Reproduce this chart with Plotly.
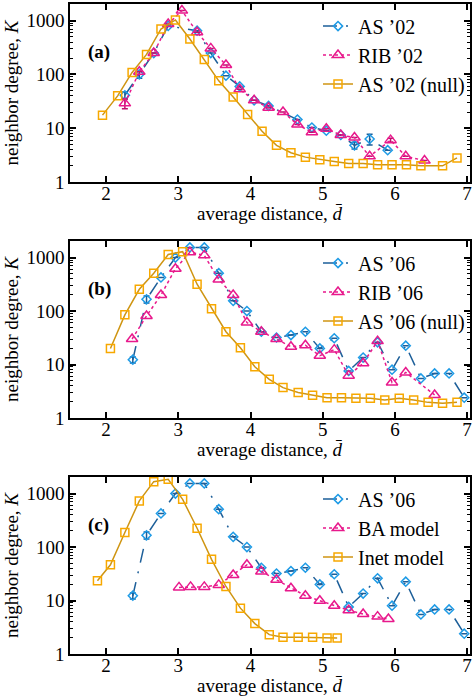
import plotly.graph_objects as go

# ---------------- data ----------------
# Panel (a)
as02_x = [2.26, 2.46, 2.66, 2.86, 3.26, 3.45, 3.66, 3.85, 4.05, 4.25, 4.65, 4.85, 5.05, 5.25, 5.44, 5.65, 5.90]
as02_y = [41, 100, 250, 800, 650, 250, 95, 60, 33, 26, 14.5, 10.3, 9, 7.5, 4.8, 6.3, 3.9]
as02_err = [6, 15, None, None, None, None, None, None, None, None, None, None, None, None, 0.7, 1.4, None]

rib02_x = [2.26, 2.46, 2.66, 2.86, 3.05, 3.26, 3.45, 3.66, 3.85, 4.05, 4.25, 4.45, 4.65, 4.85, 5.05, 5.25, 5.44, 5.65, 5.94, 6.15, 6.41]
rib02_y = [29, 112, 250, 870, 1540, 610, 305, 150, 53, 33, 24, 20, 11.7, 8.4, 9.8, 7.5, 6.7, 3.0, 6.0, 3.0, 2.5]
rib02_err = [6, None, None, None, None, None, None, None, None, None, None, None, None, None, None, None, None, None, 0.5, None, None]

null02_x = [1.95, 2.16, 2.36, 2.56, 2.76, 2.96, 3.16, 3.36, 3.56, 3.76, 3.96, 4.16, 4.36, 4.56, 4.76, 4.96,
            5.16, 5.36, 5.56, 5.76, 5.96, 6.16, 6.36, 6.66, 6.86]
null02_y = [17.5, 40, 109, 236, 700, 1030, 455, 190, 76, 38, 18, 8.8, 4.8, 3.5, 2.9, 2.6,
            2.4, 2.2, 2.2, 2.1, 2.1, 2.1, 2.0, 2.0, 2.8]

# Panel (b)
as06_x = [2.37, 2.56, 2.76, 2.96, 3.16, 3.36, 3.56, 3.76, 3.95, 4.15, 4.36, 4.56, 4.76, 4.96, 5.16, 5.36,
          5.56, 5.76, 5.96, 6.15, 6.36, 6.55, 6.75, 6.96]
as06_y = [12.3, 166, 425, 1000, 1550, 1550, 510, 155, 100, 41, 32, 35.5, 41, 20, 31, 7.6,
          13.5, 26, 8, 22.5, 5.5, 6.8, 6.8, 2.4]
as06_err = [1.6, 25, None, None, None, None, None, None, None, None, None, None, None, None, None, None,
            None, None, None, None, None, None, None, None]

rib06_x = [2.36, 2.56, 2.76, 2.96, 3.16, 3.36, 3.56, 3.76, 3.95, 4.15, 4.36, 4.56, 4.76, 4.96, 5.16, 5.36,
           5.56, 5.76, 5.96, 6.15, 6.55]
rib06_y = [30, 81, 199, 620, 1260, 1100, 390, 199, 61, 41, 30, 21.5, 23, 14.6, 19, 6.2,
           10.6, 27.4, 4.6, 7.1, 2.7]

null06_x = [2.06, 2.26, 2.46, 2.66, 2.86, 3.06, 3.26, 3.46, 3.66, 3.86, 4.06, 4.26, 4.45, 4.66, 4.86, 5.06,
            5.26, 5.46, 5.66, 5.86, 6.06, 6.26, 6.46, 6.66, 6.86]
null06_y = [20, 85, 255, 510, 1140, 1290, 318, 111, 41, 20.5, 9.1, 5.3, 3.7, 3.0, 2.65, 2.4,
            2.4, 2.33, 2.33, 2.17, 2.33, 2.17, 1.96, 1.88, 1.96]

# Panel (c)
ba_x = [3.01, 3.17, 3.36, 3.56, 3.76, 3.95, 4.15, 4.36, 4.56, 4.76, 4.96, 5.16, 5.36, 5.56, 5.76, 5.91]
ba_y = [17.6, 18, 18, 19.6, 30, 46.5, 35, 24.5, 17, 12.3, 9.9, 8, 6.6, 5.6, 5.0, 4.5]

inet_x = [1.88, 2.06, 2.26, 2.46, 2.66, 2.86, 3.06, 3.26, 3.46, 3.66, 3.86, 4.06, 4.26, 4.45, 4.66, 4.86, 5.06, 5.20]
inet_y = [23.4, 46.5, 187, 730, 1670, 1850, 780, 225, 59, 18.3, 7.2, 3.7, 2.3, 2.05, 2.05, 2.05, 2.0, 2.0]

panel_labels = ["(a)", "(b)", "(c)"]
legend_names = [["AS ’02", "RIB ’02", "AS ’02 (null)"],
                ["AS ’06", "RIB ’06", "AS ’06 (null)"],
                ["AS ’06", "BA model", "Inet model"]]
x_title = "average distance, <i>d̄</i>"
y_title = "neighbor degree, <i>K</i>"

# ---------------- styles ----------------
BLUE_M = "#1e9be6"
BLUE_L = "#1d5f99"
PINK = "#e8198c"
ORANGE_M = "#f7a800"
ORANGE_L = "#cf9512"
FONT = "'Liberation Serif', 'Times New Roman', Times, serif"

fig = go.Figure()

def err(vals):
    if vals is None:
        return None
    return dict(type="data", array=vals, visible=True, color=BLUE_L, thickness=1.5, width=3)

def add_as(x, y, e, name, ax, leg):
    fig.add_trace(go.Scatter(
        x=x, y=y, name=name, mode="lines+markers",
        line=dict(color=BLUE_L, width=1.5, dash="14px,9px,2px,9px"),
        marker=dict(symbol="diamond-open", size=7, color=BLUE_M, line=dict(width=1.5, color=BLUE_M)),
        error_y=err(e), xaxis="x" + ax, yaxis="y" + ax, legend=leg))

def add_tri(x, y, e, name, ax, leg):
    d = None
    if e is not None:
        d = dict(type="data", array=e, visible=True, color="#c0106e", thickness=1.5, width=3)
    fig.add_trace(go.Scatter(
        x=x, y=y, name=name, mode="lines+markers",
        line=dict(color=PINK, width=1.5, dash="dot"),
        marker=dict(symbol="triangle-up-open", size=10, color=PINK, line=dict(width=1.5, color=PINK)),
        error_y=d, xaxis="x" + ax, yaxis="y" + ax, legend=leg))

def add_sq(x, y, name, ax, leg):
    fig.add_trace(go.Scatter(
        x=x, y=y, name=name, mode="lines+markers",
        line=dict(color=ORANGE_L, width=1.5),
        marker=dict(symbol="square-open", size=8, color=ORANGE_M, line=dict(width=1.5, color=ORANGE_M)),
        xaxis="x" + ax, yaxis="y" + ax, legend=leg))

add_as(as02_x, as02_y, as02_err, legend_names[0][0], "", "legend")
add_tri(rib02_x, rib02_y, rib02_err, legend_names[0][1], "", "legend")
add_sq(null02_x, null02_y, legend_names[0][2], "", "legend")

add_as(as06_x, as06_y, as06_err, legend_names[1][0], "2", "legend2")
add_tri(rib06_x, rib06_y, None, legend_names[1][1], "2", "legend2")
add_sq(null06_x, null06_y, legend_names[1][2], "2", "legend2")

add_as(as06_x, as06_y, as06_err, legend_names[2][0], "3", "legend3")
add_tri(ba_x, ba_y, None, legend_names[2][1], "3", "legend3")
add_sq(inet_x, inet_y, legend_names[2][2], "3", "legend3")

H = 696
mt, mb = 4, 42
ph = H - mt - mb
def dom(top_px, bot_px):
    return [(H - mb - bot_px) / ph, (H - mb - top_px) / ph]

domains = [dom(4, 182), dom(241, 418), dom(477, 654)]

axis_common = dict(showline=True, linecolor="black", linewidth=1.5, mirror="ticks",
                   ticks="inside", ticklen=6, tickwidth=1.5, tickcolor="black",
                   showgrid=False, zeroline=False, automargin=False,
                   tickfont=dict(family=FONT, size=19, color="black"))

layout = dict(width=472, height=H, margin=dict(l=70, r=2, t=mt, b=mb),
              paper_bgcolor="white", plot_bgcolor="white",
              font=dict(family=FONT, size=19, color="black"))

annotations = []
for i, sfx in enumerate(["", "2", "3"]):
    layout["xaxis" + sfx] = dict(axis_common, range=[1.5, 7.04], tickvals=[2, 3, 4, 5, 6, 7],
                                 anchor="y" + sfx, ticklabelstandoff=-7)
    layout["yaxis" + sfx] = dict(axis_common, type="log", range=[0, 3.31], domain=domains[i],
                                 anchor="x" + sfx,
                                 tickvals=[1, 10, 100, 1000], ticktext=["1", "10", "100", "1000"],
                                 minor=dict(ticks="inside", ticklen=3, tickwidth=1, tickcolor="black",
                                            dtick="D1", showgrid=False),
                                 title=dict(text=y_title, standoff=3,
                                            font=dict(family=FONT, size=19)))
    leg_key = "legend" if sfx == "" else "legend" + sfx
    layout[leg_key] = dict(x=0.62, xanchor="left", y=domains[i][1] - 0.004, yanchor="top",
                           bgcolor="rgba(0,0,0,0)", borderwidth=0,
                           font=dict(family=FONT, size=20), itemwidth=30,
                           tracegroupgap=0)
    annotations.append(dict(text="<b>" + panel_labels[i] + "</b>", xref="x" + sfx + " domain",
                            yref="y" + sfx + " domain", x=0.04, y=0.73, showarrow=False,
                            xanchor="left", yanchor="middle",
                            font=dict(family=FONT, size=19, color="black")))
    annotations.append(dict(text=x_title, xref="x" + sfx + " domain",
                            yref="y" + sfx + " domain", x=0.5, y=0, yshift=-31,
                            showarrow=False, xanchor="center", yanchor="middle",
                            font=dict(family=FONT, size=19, color="black")))

layout["annotations"] = annotations
fig.update_layout(**layout)
fig.write_html("out.html", config={"displayModeBar": False},
               post_script="document.body.style.margin='0';document.body.style.overflow='hidden';")
